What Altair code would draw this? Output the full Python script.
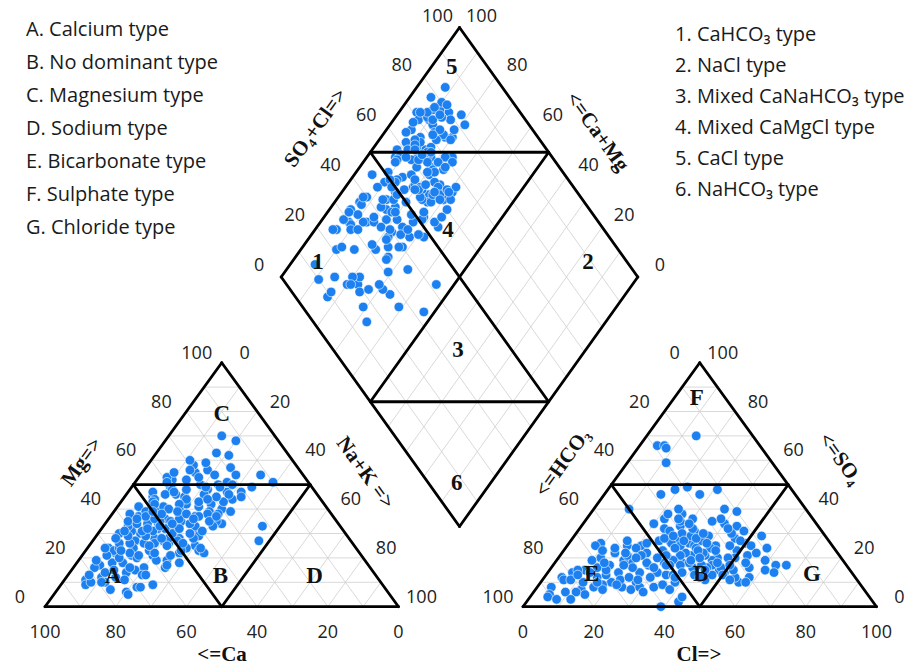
import altair as alt
import pandas as pd

# ---------------- data (percent of meq) ----------------
# cations: Mg and Na+K (Ca = 100 - Mg - Na); samples in the same order as the anion lists
MG = [45, 38, 52, 30, 47, 21, 40, 33, 49, 55, 26, 44, 36, 58,
      12, 18, 24, 28, 31, 35, 39, 42, 46, 50, 53, 56, 60, 63, 16, 22, 27, 41, 48, 34, 14,
      10, 15, 19, 23, 25, 27, 29, 31, 33, 34, 36, 37, 38, 40, 41, 42, 43, 44, 45, 46,
      47, 48, 49, 50, 51, 52, 54, 55, 57, 59, 13, 17, 20, 22, 24, 26, 28, 30, 32, 33,
      35, 36, 37, 39, 40, 41, 42, 43, 44, 45, 46, 47, 48, 49, 50, 51, 53, 54, 56, 62,
      8, 11, 16, 18, 21, 23, 26, 29, 32, 34, 38, 39, 43, 45, 47, 49, 44, 42, 46, 70, 68,
      22, 9, 10, 6, 14, 8, 16, 51, 27, 54, 33, 24, 35, 28, 31, 5, 10, 9, 12, 7,
      15, 13, 17, 19, 11, 18, 20, 13, 16, 19, 21, 23, 24, 25, 26, 21, 28, 23, 24, 29,
      22, 27, 26, 28, 21, 29, 30, 23, 26, 28, 25, 22, 24, 31, 32, 34, 35, 36, 37, 38,
      31, 33, 35, 36, 39, 32, 34, 37, 38, 39, 30, 33, 35, 36, 38, 31, 34, 37, 39, 32, 36]
NA = [8, 5, 10, 12, 7, 14, 18, 20, 11, 15, 22, 9, 16, 13,
      10, 13, 6, 17, 9, 21, 12, 19, 14, 24, 8, 18, 11, 17, 20, 9, 12, 6, 22, 15, 16,
      12, 18, 25, 8, 30, 20, 14, 28, 7, 33, 11, 24, 19, 30, 13, 26, 9, 31, 17, 22,
      28, 12, 34, 19, 26, 14, 21, 9, 24, 16, 21, 7, 16, 27, 13, 18, 24, 6, 16, 26,
      31, 14, 8, 27, 15, 23, 10, 29, 18, 26, 11, 32, 16, 21, 28, 9, 17, 27, 13, 21,
      22, 6, 26, 10, 20, 32, 11, 29, 21, 12, 30, 9, 22, 33, 13, 25, 24, 17, 29, 15, 20,
      13, 7, 11, 20, 10, 23, 6, 39, 47, 34, 45, 28, 18, 21, 15, 21, 8, 26, 14, 15,
      12, 22, 26, 5, 17, 29, 11, 6, 16, 22, 7, 18, 9, 22, 15, 25, 19, 27, 5, 14,
      20, 24, 8, 28, 16, 9, 21, 10, 26, 6, 17, 34, 32, 12, 18, 24, 15, 20, 10, 27,
      29, 31, 6, 13, 18, 22, 9, 25, 14, 33, 26, 16, 29, 8, 21, 7, 19, 30, 11, 13, 24]
# anions: SO4 and Cl (HCO3 = 100 - SO4 - Cl)
SO4 = [70, 66, 66, 65, 59, 17, 17, 15, 14, 10, 12, 46, 48, 40,
       39, 33, 31, 28, 26, 29, 24, 19, 16, 23, 21, 34, 36, 30, 27, 25, 22, 18, 20, 32, 35,
       38, 36, 36, 32, 33, 31, 34, 27, 28, 26, 29, 25, 27, 25, 22, 23, 21, 24, 20, 22,
       20, 23, 18, 16, 19, 15, 17, 18, 13, 11, 14, 12, 10, 13, 30, 27, 21, 19, 16, 46,
       48, 49, 35, 31, 29, 26, 24, 22, 19, 17, 15, 28, 30, 25, 23, 21, 19, 17, 14, 12,
       16, 18, 20, 26, 24, 28, 32, 34, 15, 13, 11, 23, 27, 29, 21, 25, 20, 17, 38, 40, 36,
       26, 8, 5, 12, 14, 7, 15, 12, 17, 22, 25, 19, 25, 17, 10, 8, 10, 26, 14, 18,
       14, 14, 7, 8, 4, 11, 15, 25, 27, 19, 8, 8, 13, 10, 6, 11, 20, 16, 22, 12,
       5, 18, 21, 9, 13, 23, 6, 16, 11, 19, 3, 9, 20, 15, 24, 12, 7, 17, 10, 13,
       9, 14, 18, 21, 11, 6, 16, 20, 24, 3, 7, 13, 10, 17, 22, 0, 2, 4, 40, 17, 12]
CL = [14, 5, 7, 8, 11, 63, 66, 61, 64, 56, 58, 27, 31, 37,
      41, 44, 47, 46, 50, 53, 57, 59, 56, 49, 53, 40, 38, 44, 48, 52, 55, 54, 50, 42, 36,
      26, 30, 22, 24, 28, 33, 20, 25, 30, 34, 38, 42, 28, 36, 29, 33, 37, 41, 45, 35,
      31, 43, 36, 40, 44, 48, 45, 38, 42, 46, 50, 54, 58, 47, 30, 37, 41, 49, 44, 16,
      19, 22, 27, 26, 33, 29, 37, 40, 38, 42, 44, 35, 36, 32, 38, 34, 33, 36, 38, 44,
      48, 46, 40, 39, 31, 26, 32, 30, 52, 50, 53, 28, 32, 28, 30, 46, 48, 50, 22, 24, 26,
      9, 4, 5, 5, 7, 13, 10, 15, 16, 15, 17, 21, 21, 27, 27, 24, 20, 22, 31, 31,
      20, 26, 27, 16, 5, 6, 8, 8, 16, 19, 29, 33, 17, 12, 9, 8, 12, 23, 24, 30,
      15, 26, 19, 35, 34, 11, 12, 13, 22, 10, 8, 18, 28, 16, 20, 24, 19, 33, 38, 9,
      22, 12, 14, 23, 27, 31, 29, 22, 14, 12, 38, 36, 16, 20, 18, 39, 43, 43, 10, 32, 37]

TICKS = [0, 20, 40, 60, 80, 100]
LEFT_LEGEND = ["A. Calcium type", "B. No dominant type", "C. Magnesium type", "D. Sodium type",
               "E. Bicarbonate type", "F. Sulphate type", "G. Chloride type"]
RIGHT_LEGEND = ["1. CaHCO\u2083 type", "2. NaCl type", "3. Mixed CaNaHCO\u2083 type",
                "4. Mixed CaMgCl type", "5. CaCl type", "6. NaHCO\u2083 type"]

# ---------------- layout ----------------
W_PX, H_PX = 913, 666
LX0, RX0, TY0, TW, TH = 45.0, 523.0, 606.7, 353.5, 244.0
DCX, DCY, DHW, DHH = 459.5, 277.0, 178.3, 249.5
ANG_UP, ANG_DOWN = 305.9, 54.1


def tri(x0, r, t):
    return x0 + TW * (r + t / 2.0), TY0 - TH * t


def dia(a, c):
    return DCX - DHW + DHW * (a + c), DCY + DHH * (c - a)


def seg_rows(fn, pairs):
    rows = []
    for (p1, q1), (p2, q2) in pairs:
        xa, ya = fn(p1, q1)
        xb, yb = fn(p2, q2)
        rows.append(dict(x=xa, y=ya, x2=xb, y2=yb))
    return rows


tri_grid, dia_grid = [], []
for k in range(1, 10):
    f = k / 10.0
    tri_grid += [((0, f), (1 - f, f)), ((f, 0), (f, 1 - f)), ((1 - f, 0), (0, 1 - f))]
    dia_grid += [((f, 0), (f, 1)), ((0, f), (1, f))]
tri_out = [((0, 0), (1, 0)), ((1, 0), (0, 1)), ((0, 1), (0, 0)),
           ((0, .5), (.5, .5)), ((0, .5), (.5, 0)), ((.5, 0), (.5, .5))]
dia_out = [((0, 0), (1, 0)), ((1, 0), (1, 1)), ((1, 1), (0, 1)), ((0, 1), (0, 0)),
           ((.5, 0), (.5, 1)), ((0, .5), (1, .5)), ((.5, 0), (1, .5)), ((0, .5), (.5, 1))]

Lf = lambda r, t: tri(LX0, r, t)
Rf = lambda r, t: tri(RX0, r, t)
grid_df = pd.DataFrame(seg_rows(Lf, tri_grid) + seg_rows(Rf, tri_grid) + seg_rows(dia, dia_grid))
out_df = pd.DataFrame(seg_rows(Lf, tri_out) + seg_rows(Rf, tri_out) + seg_rows(dia, dia_out))

# points: cation triangle, anion triangle, diamond
pts = []
for mg, na in zip(MG, NA):
    x, y = tri(LX0, na / 100, mg / 100)
    pts.append(dict(x=x, y=y))
for s, c in zip(SO4, CL):
    x, y = tri(RX0, c / 100, s / 100)
    pts.append(dict(x=x, y=y))
for na, s, c in zip(NA, SO4, CL):
    x, y = dia((s + c) / 100, na / 100)
    pts.append(dict(x=x, y=y))
pts_df = pd.DataFrame(pts)

# tick labels
tk = []
for v in TICKS:
    f = v / 100
    for (x, y), dx, dy in [
        (tri(LX0, 0, f), -25, -9), (tri(LX0, f, 1 - f), 23, -9), (tri(LX0, 1 - f, 0), 0, 26),
        (tri(RX0, 0, 1 - f), -25, -9), (tri(RX0, 1 - f, f), 23, -9), (tri(RX0, f, 0), 0, 26),
        (dia(f, 0), -22, -11), (dia(1, 1 - f), 22, -11)]:
        tk.append(dict(x=x + dx, y=y + dy, text=str(v)))
tick_df = pd.DataFrame(tk)

# region letters / numbers
reg = []
for txt, (r, t) in [("C", (0.105, 0.79)), ("A", (0.13, 0.125)), ("B", (0.434, 0.125)), ("D", (0.70, 0.125))]:
    x, y = tri(LX0, r, t); reg.append(dict(x=x, y=y, text=txt))
for txt, (r, t) in [("F", (0.063, 0.857)), ("E", (0.127, 0.135)), ("B", (0.435, 0.135)), ("G", (0.75, 0.135))]:
    x, y = tri(RX0, r, t); reg.append(dict(x=x, y=y, text=txt))
for txt, (a, c) in [("5", (0.899, 0.057)), ("4", (0.562, 0.374)), ("1", (0.134, 0.072)),
                    ("2", (0.891, 0.83)), ("3", (0.35, 0.642)), ("6", (0.079, 0.905))]:
    x, y = dia(a, c); reg.append(dict(x=x, y=y, text=txt))
reg_df = pd.DataFrame(reg)

title_h = pd.DataFrame([dict(x=222, y=655, text="<=Ca"), dict(x=699, y=655, text="Cl=>")])
title_up = pd.DataFrame([dict(x=82, y=462, text="Mg=>"), dict(x=563, y=463, text="<=HCO\u2083"),
                         dict(x=316, y=128, text="SO\u2084+Cl=>")])
title_dn = pd.DataFrame([dict(x=365, y=473, text="Na+K =>"), dict(x=840, y=459, text="<=SO\u2084"),
                         dict(x=597, y=132, text="<=Ca+Mg")])

leg = [dict(x=26, y=36 + 33 * i, text=t) for i, t in enumerate(LEFT_LEGEND)]
leg += [dict(x=675, y=41 + 31 * i, text=t) for i, t in enumerate(RIGHT_LEGEND)]
leg_df = pd.DataFrame(leg)

X = alt.X("x:Q", scale=alt.Scale(domain=[0, W_PX], nice=False, zero=False), axis=None)
Y = alt.Y("y:Q", scale=alt.Scale(domain=[0, H_PX], nice=False, zero=False, reverse=True), axis=None)

grid = alt.Chart(grid_df).mark_rule(color="#cfcfcf", strokeWidth=0.8).encode(x=X, y=Y, x2="x2:Q", y2="y2:Q")
outline = alt.Chart(out_df).mark_rule(color="#000000", strokeWidth=2.8, strokeCap="round").encode(
    x=X, y=Y, x2="x2:Q", y2="y2:Q")
points = alt.Chart(pts_df).mark_circle(size=92, color="#1c80f0", opacity=1, stroke="white",
                                       strokeWidth=0.6).encode(x=X, y=Y)
ticks = alt.Chart(tick_df).mark_text(font="Open Sans", fontSize=18, color="#222222", align="center",
                                     baseline="middle").encode(x=X, y=Y, text="text:N")
regions = alt.Chart(reg_df).mark_text(font="Liberation Serif", fontSize=23, fontWeight="bold", color="#111111",
                                      align="center", baseline="middle").encode(x=X, y=Y, text="text:N")
tstyle = dict(font="Liberation Serif", fontSize=21, fontWeight="bold", color="#111111", align="center",
              baseline="middle")
t_h = alt.Chart(title_h).mark_text(**tstyle).encode(x=X, y=Y, text="text:N")
t_up = alt.Chart(title_up).mark_text(angle=ANG_UP, **tstyle).encode(x=X, y=Y, text="text:N")
t_dn = alt.Chart(title_dn).mark_text(angle=ANG_DOWN, **tstyle).encode(x=X, y=Y, text="text:N")
legend = alt.Chart(leg_df).mark_text(font="Open Sans", fontSize=20, color="#1a1a1a", align="left",
                                     baseline="alphabetic").encode(x=X, y=Y, text="text:N")

chart = alt.layer(grid, points, outline, ticks, regions, t_h, t_up, t_dn, legend).properties(
    width=W_PX, height=H_PX, padding=0, autosize=alt.AutoSizeParams(type="none")
).configure_view(stroke=None)

chart.save("out.html", embed_options={"renderer": "svg", "actions": False})
